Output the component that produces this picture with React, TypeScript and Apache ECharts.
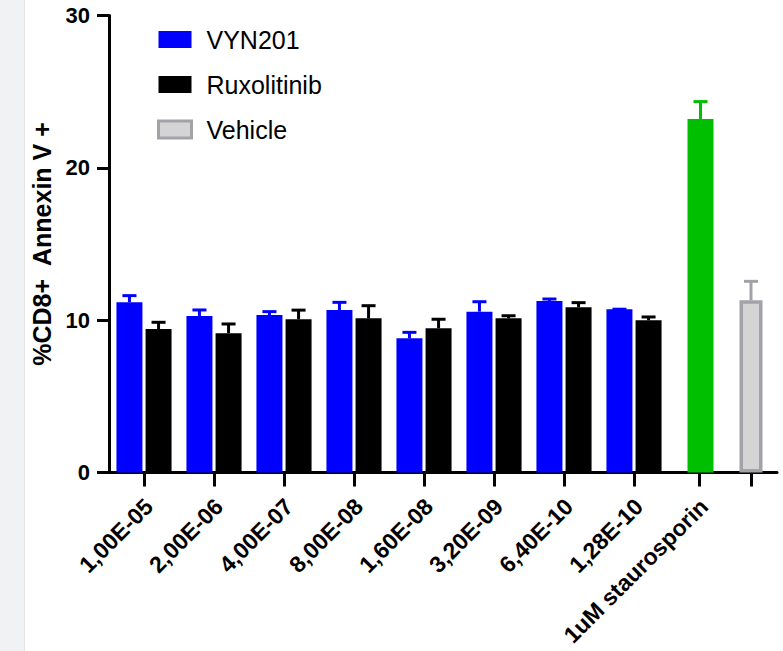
import React, { useEffect, useRef } from 'react';
import * as echarts from 'echarts';

const concentrations = ['1,00E-05', '2,00E-06', '4,00E-07', '8,00E-08', '1,60E-08', '3,20E-09', '6,40E-10', '1,28E-10'];
const vyn201Mean = [11.18, 10.28, 10.34, 10.67, 8.81, 10.56, 11.26, 10.72];
const vyn201Sd = [0.43, 0.39, 0.22, 0.5, 0.39, 0.65, 0.13, 0];
const ruxMean = [9.42, 9.14, 10.06, 10.12, 9.47, 10.12, 10.85, 9.99];
const ruxSd = [0.44, 0.61, 0.6, 0.83, 0.59, 0.17, 0.3, 0.22];
// control group: spacer slot, staurosporin, vehicle
const controlCategories = ['', '1uM staurosporin', ''];
const stauroMean = ['-', 23.21, '-'];
const stauroSd = [0, 1.14, 0];
const vehicleMean = ['-', '-', 11.3];
const vehicleSd = [0, 0, 1.25];
const yTicks = { min: 0, max: 30, interval: 10 };
const yTitle = '%CD8+  Annexin V +';

const FONT = '"Liberation Sans", Arial, Helvetica, sans-serif';

function errRender(offset: number, color: string) {
  return (params: any, api: any) => {
    const idx = api.value(0);
    const m = api.value(1);
    const e = api.value(2);
    const p0 = api.coord([idx, m]);
    const p1 = api.coord([idx, m + e]);
    const x = p0[0] + offset;
    return {
      type: 'group',
      children: [
        { type: 'line', shape: { x1: x, y1: p0[1], x2: x, y2: p1[1] }, style: { stroke: color, lineWidth: 3 } },
        { type: 'line', shape: { x1: x - 7, y1: p1[1], x2: x + 7, y2: p1[1] }, style: { stroke: color, lineWidth: 3 } },
      ],
    };
  };
}

export default function App() {
  const ref = useRef<HTMLDivElement>(null);
  useEffect(() => {
    document.body.style.margin = '0';
    const chart = echarts.init(ref.current!, null, { renderer: 'svg' });
    const axisLine = { show: true, lineStyle: { color: '#000', width: 3 } };
    const xLabel = {
      interval: 0, rotate: 45, margin: 35, padding: [0, -7, 0, 0],
      fontSize: 23, fontWeight: 'bold', color: '#000', fontFamily: FONT,
    };
    const option: any = {
      animation: false,
      backgroundColor: '#ffffff',
      graphic: [
        { type: 'rect', shape: { x: 0, y: 0, width: 24, height: 651 }, style: { fill: '#f1f2f3' }, silent: true, z: -10 },
        { type: 'line', shape: { x1: 24.5, y1: 0, x2: 24.5, y2: 651 }, style: { stroke: '#e3e4e6', lineWidth: 1 }, silent: true, z: -10 },
      ],
      legend: {
        data: ['VYN201', 'Ruxolitinib', { name: 'Vehicle', itemStyle: { borderWidth: 3 } }],
        orient: 'vertical',
        left: 152,
        top: 22,
        icon: 'rect',
        itemWidth: 33,
        itemHeight: 17,
        itemGap: 20,
        selectedMode: false,
        textStyle: { fontSize: 25, color: '#000', fontFamily: FONT, padding: [0, 0, 0, 10], lineHeight: 20 },
      },
      grid: [
        { left: 109, top: 15.5, width: 560, height: 457, outerBoundsMode: 'none' },
        { left: 621, top: 15.5, width: 156, height: 457, outerBoundsMode: 'none' },
      ],
      xAxis: [
        {
          type: 'category', gridIndex: 0, data: concentrations,
          axisLine,
          axisTick: { show: true, alignWithLabel: true, length: 14, lineStyle: { color: '#000', width: 3 } },
          axisLabel: xLabel,
        },
        {
          type: 'category', gridIndex: 1, data: controlCategories,
          axisLine,
          axisTick: { show: true, alignWithLabel: true, length: 14, interval: (i: number) => i > 0, lineStyle: { color: '#000', width: 3 } },
          axisLabel: xLabel,
        },
      ],
      yAxis: [
        {
          type: 'value', gridIndex: 0, ...yTicks,
          name: yTitle, nameLocation: 'middle', nameGap: 55,
          nameTextStyle: { fontSize: 25, fontWeight: 'bold', color: '#000', fontFamily: FONT },
          axisLine,
          axisTick: { show: true, length: 12, lineStyle: { color: '#000', width: 3 } },
          splitLine: { show: false },
          axisLabel: { margin: 19, fontSize: 22, fontWeight: 'bold', color: '#000', fontFamily: FONT },
        },
        { type: 'value', gridIndex: 1, ...yTicks, show: false, splitLine: { show: false } },
      ],
      series: [
        { name: 'VYN201', type: 'bar', xAxisIndex: 0, yAxisIndex: 0, data: vyn201Mean, barWidth: 26, barGap: '12%', itemStyle: { color: '#0000ff' } },
        { name: 'Ruxolitinib', type: 'bar', xAxisIndex: 0, yAxisIndex: 0, data: ruxMean, barWidth: 26, barGap: '12%', itemStyle: { color: '#000000' } },
        { name: '1uM staurosporin', type: 'bar', xAxisIndex: 1, yAxisIndex: 1, data: stauroMean, barWidth: 26, barGap: '-100%', itemStyle: { color: '#00bf00' } },
        { name: 'Vehicle', type: 'bar', xAxisIndex: 1, yAxisIndex: 1, data: vehicleMean, barWidth: 23, barGap: '-100%', itemStyle: { color: '#d4d4d4', borderColor: '#a2a2a8', borderWidth: 3.5 } },
        {
          type: 'custom', xAxisIndex: 0, yAxisIndex: 0, z: 3, renderItem: errRender(-14.56, '#0000ff'),
          encode: { x: 0, y: 1 }, data: vyn201Mean.map((m, i) => [i, m, vyn201Sd[i]]),
        },
        {
          type: 'custom', xAxisIndex: 0, yAxisIndex: 0, z: 3, renderItem: errRender(14.56, '#000000'),
          encode: { x: 0, y: 1 }, data: ruxMean.map((m, i) => [i, m, ruxSd[i]]),
        },
        {
          type: 'custom', xAxisIndex: 1, yAxisIndex: 1, z: 3, renderItem: errRender(1.5, '#00bf00'),
          encode: { x: 0, y: 1 }, data: stauroMean.map((m, i) => [i, m, stauroSd[i]]).filter((d) => d[1] !== '-'),
        },
        {
          type: 'custom', xAxisIndex: 1, yAxisIndex: 1, z: 3, renderItem: errRender(0, '#a2a2a8'),
          encode: { x: 0, y: 1 }, data: vehicleMean.map((m, i) => [i, m, vehicleSd[i]]).filter((d) => d[1] !== '-'),
        },
      ],
    };
    chart.setOption(option);
    return () => chart.dispose();
  }, []);
  return <div ref={ref} style={{ position: 'absolute', left: 0, top: 0, width: 783, height: 651 }} />;
}
